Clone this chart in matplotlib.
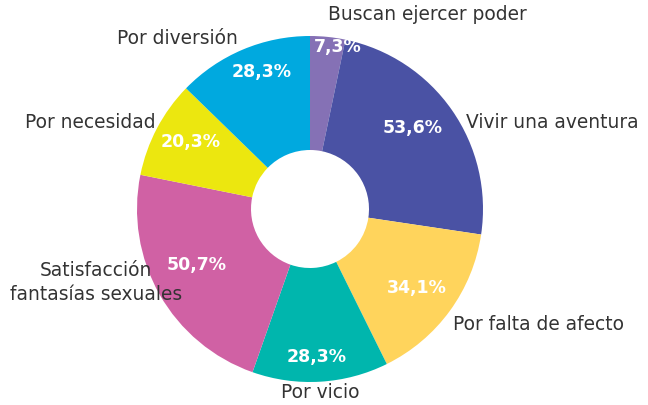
import matplotlib.pyplot as plt

labels = ['Buscan ejercer poder', 'Vivir una aventura', 'Por falta de afecto', 'Por vicio',
          'Satisfacción\nfantasías sexuales', 'Por necesidad', 'Por diversión']
values = [7.3, 53.6, 34.1, 28.3, 50.7, 20.3, 28.3]
colors = ['#8571b5', '#4a52a4', '#ffd45c', '#00b6ad', '#d061a4', '#ece70f', '#00a9df']

# label placement (pixel coords, y down)
pct_pos = [(338, 47), (413, 128), (417, 288), (317, 357), (197, 265), (191, 142), (262, 72)]
lab_pos = [(328, 15, 'left'), (466, 123, 'left'), (453, 325, 'left'), (320, 393, 'center'),
           (96, 271, 'center'), (156, 122, 'right'), (238, 39, 'right')]

W, H = 648, 406
fig = plt.figure(figsize=(W / 100, H / 100), dpi=100)
ax = fig.add_axes([0, 0, 1, 1])

cx, cy, r, r_in = 310, 210, 173, 59
ax.pie(values, colors=colors, startangle=90, counterclock=False, radius=r,
       center=(cx, H - cy), wedgeprops=dict(width=r - r_in, linewidth=0), frame=True)

for v, (x, y) in zip(values, pct_pos):
    ax.text(x, H - y, f'{v:.1f}%'.replace('.', ','), color='white', fontsize=12.5,
            fontweight='bold', ha='center', va='center')

# one text per line so the two-line label stays clear of the percentage
for lab, (x, y, ha) in zip(labels, lab_pos):
    for i, line in enumerate(lab.split('\n')):
        ax.text(x, H - y - i * 24, line, color='#333333', fontsize=13.4, ha=ha, va='center')

ax.set_xlim(0, W)
ax.set_ylim(0, H)
ax.set_aspect('equal')
ax.axis('off')
fig.savefig('out.png', dpi=100)
